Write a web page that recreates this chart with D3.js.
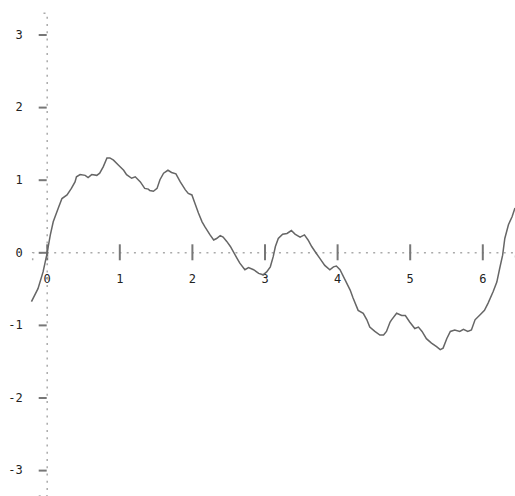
<!DOCTYPE html>
<html>
<head>
<meta charset="utf-8">
<script src="https://cdn.jsdelivr.net/npm/d3@7"></script>
<style>
  body { margin: 0; background: #fff; }
  svg { display: block; }
  .axis path.domain { stroke: #aaa; stroke-width: 1.5; stroke-dasharray: 2, 5.25; }
  .axis line { stroke: #777; stroke-width: 2; }
  .axis text { font-family: "DejaVu Sans Mono", monospace; font-size: 12px; fill: #222; }
  .curve { fill: none; stroke: #666; stroke-width: 1.5; }
</style>
</head>
<body>
<svg id="chart" width="515" height="496"></svg>
<script>
// tick values
var xTicks = [0, 1, 2, 3, 4, 5, 6];
var yTicks = [-3, -2, -1, 0, 1, 2, 3];

// curve samples
var xs = [-0.21, -0.12, -0.05, 0.00, 0.05, 0.09, 0.16, 0.21, 0.28, 0.34, 0.39, 0.41, 0.46, 0.53, 0.57, 0.62, 0.69, 0.73, 0.78, 0.83, 0.87, 0.92, 0.99, 1.06, 1.10, 1.17, 1.22, 1.29, 1.35, 1.40,
  1.42, 1.47, 1.52, 1.56, 1.61, 1.67, 1.72, 1.78, 1.84, 1.91, 1.95, 2.00, 2.04, 2.09, 2.14, 2.18, 2.25, 2.30, 2.34, 2.39, 2.43, 2.48, 2.53, 2.57, 2.62, 2.66, 2.73, 2.78, 2.85, 2.92, 2.98, 3.03,
  3.08, 3.12, 3.15, 3.19, 3.25, 3.31, 3.37, 3.42, 3.49, 3.55, 3.60, 3.65, 3.71, 3.76, 3.83, 3.90, 3.95, 3.99, 4.04, 4.11, 4.18, 4.22, 4.29, 4.36, 4.41, 4.45, 4.52, 4.59, 4.64, 4.68, 4.73,
  4.75, 4.82, 4.89, 4.94, 5.00, 5.07, 5.12, 5.17, 5.23, 5.30, 5.37, 5.42, 5.46, 5.51, 5.56, 5.62, 5.69, 5.74, 5.80, 5.85, 5.90, 5.97, 6.03, 6.08, 6.15, 6.20, 6.24, 6.28, 6.31, 6.36, 6.41, 6.45];
var ys = [-0.68, -0.50, -0.27, -0.04, 0.24, 0.42, 0.61, 0.74, 0.79, 0.88, 0.97, 1.04, 1.07, 1.06, 1.03, 1.07, 1.06, 1.09, 1.18, 1.30, 1.30, 1.27, 1.20, 1.13, 1.07, 1.02, 1.04, 0.97, 0.88, 0.87,
  0.85, 0.84, 0.88, 1.00, 1.09, 1.13, 1.10, 1.08, 0.97, 0.86, 0.81, 0.79, 0.68, 0.54, 0.42, 0.35, 0.24, 0.17, 0.19, 0.23, 0.21, 0.15, 0.08, 0.01, -0.08, -0.15, -0.24, -0.21, -0.24, -0.29, -0.31, -0.27,
  -0.20, -0.06, 0.08, 0.19, 0.25, 0.26, 0.30, 0.25, 0.21, 0.24, 0.17, 0.08, -0.01, -0.08, -0.18, -0.24, -0.20, -0.19, -0.24, -0.38, -0.52, -0.63, -0.80, -0.84, -0.93, -1.03, -1.09, -1.14, -1.14, -1.09, -0.96,
  -0.93, -0.84, -0.87, -0.87, -0.96, -1.05, -1.03, -1.09, -1.19, -1.25, -1.30, -1.34, -1.32, -1.19, -1.09, -1.07, -1.09, -1.06, -1.09, -1.07, -0.93, -0.86, -0.80, -0.70, -0.54, -0.41, -0.22, -0.04, 0.19, 0.38, 0.49, 0.61];

var svg = d3.select("#chart");
var unit = 72.6;
var x0 = 46.7, y0 = 252.3;

var xScale = d3.scaleLinear()
  .domain([-0.2, 6.45])
  .range([x0 - 0.2 * unit, x0 + 6.45 * unit]);

var yScale = d3.scaleLinear()
  .domain([-3.35, 3.3])
  .range([y0 + 3.35 * unit, y0 - 3.3 * unit]);

var fmt = function (d) { return String(d); };

// x axis through y = 0
var gx = svg.append("g")
  .attr("class", "x axis")
  .attr("transform", "translate(0," + yScale(0) + ")")
  .call(d3.axisBottom(xScale).tickValues(xTicks).tickFormat(fmt).tickSizeOuter(0).tickSize(8).tickPadding(14));
gx.selectAll(".tick line").attr("y1", -8).attr("y2", 8);

// y axis through x = 0
var gy = svg.append("g")
  .attr("class", "y axis")
  .attr("transform", "translate(" + xScale(0) + ",0)")
  .call(d3.axisLeft(yScale).tickValues(yTicks).tickFormat(fmt).tickSizeOuter(0).tickSize(8).tickPadding(16));

var data = xs.map(function (d, i) { return { x: d, y: ys[i] }; });

var line = d3.line()
  .x(function (d) { return xScale(d.x); })
  .y(function (d) { return yScale(d.y); });

svg.append("path")
  .datum(data)
  .attr("class", "curve")
  .attr("d", line);
</script>
</body>
</html>
